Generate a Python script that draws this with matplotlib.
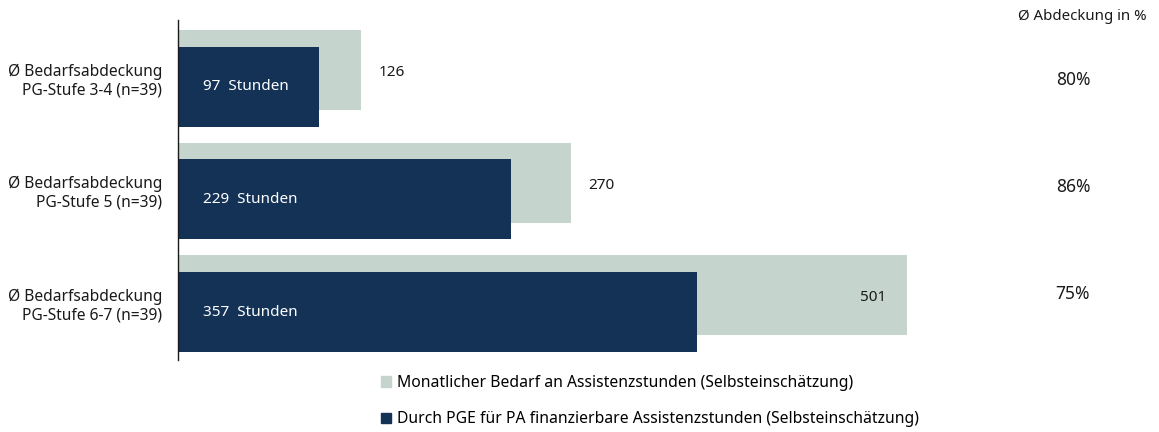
import numpy as np
import matplotlib.pyplot as plt
import matplotlib.transforms as mtransforms
from matplotlib.patches import Patch

plt.rcParams['font.family'] = ['Noto Sans', 'DejaVu Sans']

# data
categories = ['Ø Bedarfsabdeckung\nPG-Stufe 3-4 (n=39)',
              'Ø Bedarfsabdeckung\nPG-Stufe 5 (n=39)',
              'Ø Bedarfsabdeckung\nPG-Stufe 6-7 (n=39)']
bedarf = [126, 270, 501]
finanzierbar = [97, 229, 357]
abdeckung = ['80%', '86%', '75%']

light = '#c5d5ce'
dark = '#133256'
txt = '#1a1a1a'

fig = plt.figure(figsize=(11.59, 4.32), dpi=100)
ax = fig.add_axes([178 / 1159, 72 / 432, 729 / 1159, 340 / 432])

y = np.arange(len(categories))
h = 0.71
off = 0.074

ax.barh(y - off, bedarf, height=h, color=light, zorder=1)
ax.barh(y + off, finanzierbar, height=h, color=dark, zorder=2)

ax.set_xlim(0, 501)
ax.set_ylim(2.5, -0.52)

for i in range(len(categories)):
    # Bedarf label: outside unless bar fills the axis
    if bedarf[i] > 450:
        ax.text(bedarf[i] - 14, y[i] - off + 0.02, str(bedarf[i]), ha='right', va='center',
                fontsize=11, color=txt)
    else:
        ax.text(bedarf[i] + 12, y[i] - off + 0.02, str(bedarf[i]), ha='left', va='center',
                fontsize=11, color=txt)
    ax.text(17, y[i] + off, f'{finanzierbar[i]}  Stunden', ha='left', va='center',
            fontsize=11, color='white')
    ax.text(-11, y[i] + 0.02, categories[i], ha='right', va='center', fontsize=11.2,
            color=txt, linespacing=1.2)

# coverage column on the right, slightly tighter spacing than the bars
for i, pct in enumerate(abdeckung):
    fig.text(1073 / 1159, 1 - (80 + 107 * i) / 432, pct, ha='center', va='center',
             fontsize=12.5, color=txt)

fig.text(1082 / 1159, 1 - 17 / 432, 'Ø Abdeckung in %', ha='center', va='center',
         fontsize=10.8, color=txt)

for s in ['top', 'right', 'bottom']:
    ax.spines[s].set_visible(False)
ax.spines['left'].set_color(txt)
ax.spines['left'].set_linewidth(1.0)
ax.set_xticks([])
ax.set_yticks([])

handles = [Patch(color=light), Patch(color=dark)]
labels = ['Monatlicher Bedarf an Assistenzstunden (Selbsteinschätzung)',
          'Durch PGE für PA finanzierbare Assistenzstunden (Selbsteinschätzung)']
fig.legend(handles, labels, loc='upper left', bbox_to_anchor=(381 / 1159, 1 - 375 / 432),
           frameon=False, fontsize=11.3, handlelength=0.65, handleheight=0.65,
           handletextpad=0.35, labelspacing=1.3, borderpad=0, borderaxespad=0)

fig.savefig('out.png', dpi=100)
